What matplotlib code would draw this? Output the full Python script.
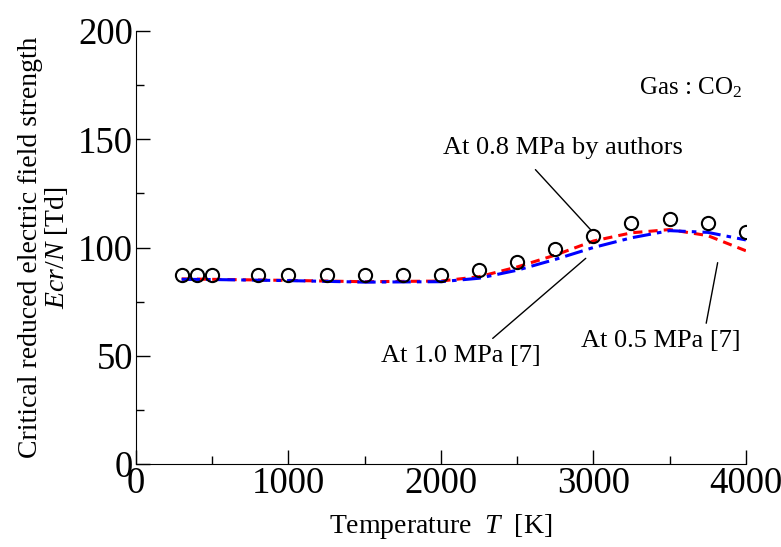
#!/usr/bin/env python3

import matplotlib
matplotlib.use('Agg')
import matplotlib.pyplot as plt
import numpy as np

plt.rcParams['font.family'] = ['Liberation Serif', 'DejaVu Serif']
plt.rcParams['mathtext.fontset'] = 'custom'
plt.rcParams['mathtext.rm'] = 'Liberation Serif'
plt.rcParams['mathtext.it'] = 'Liberation Serif:italic'

# measured by authors at 0.8 MPa
T_meas = [300, 400, 500, 800, 1000, 1250, 1500, 1750, 2000,
          2250, 2500, 2750, 3000, 3250, 3500, 3750, 4000]
E_meas = [87.3, 87.3, 87.3, 87.2, 87.2, 87.2, 87.1, 87.1, 87.1,
          89.6, 93.3, 99.3, 105.3, 111.4, 113.1, 111.4, 107.3]

# reference [7]
T_ref = [300, 500, 1000, 1500, 2000, 2250, 2500, 2750, 3000, 3250, 3500, 3750, 4000]
E_05 = [85.5, 85.3, 84.8, 84.2, 84.5, 86.5, 91.0, 96.5, 103.0, 106.8, 108.3, 105.5, 98.5]
E_10 = [85.3, 85.2, 84.7, 84.0, 84.2, 85.8, 89.5, 94.5, 100.0, 104.5, 107.8, 107.0, 103.5]

fig = plt.figure(figsize=(7.81, 5.47), dpi=100)
ax = fig.add_axes([0.174, 0.152, 0.781, 0.791])

ax.plot(T_ref, E_05, color='red', ls=(0, (3, 2)), lw=2.2)
ax.plot(T_ref, E_10, color='blue', ls=(0, (6, 2, 1.5, 2)), lw=2.2)
ax.plot(T_meas, E_meas, ls='none', marker='o', ms=9.5, mfc='none',
        mec='black', mew=1.5)

ax.set_xlim(0, 4000)
ax.set_ylim(0, 200)
ax.set_xticks(np.arange(0, 4001, 1000))
ax.set_xticks(np.arange(500, 4000, 1000), minor=True)
ax.set_yticks(np.arange(0, 201, 50))
ax.set_yticks(np.arange(25, 200, 50), minor=True)
ax.spines['top'].set_visible(False)
ax.spines['right'].set_visible(False)
ax.tick_params(which='both', direction='in', labelsize=26.5, width=1)
ax.tick_params(which='major', length=10, pad=2)
ax.tick_params(which='minor', length=6)

ax.set_xlabel('Temperature  $\\it{T}$  [K]', fontsize=20, labelpad=8)
ax.set_ylabel('Critical reduced electric field strength\n'
              '$\\it{Ecr/N}$ [Td]', fontsize=20, labelpad=6, linespacing=1.0)

ax.text(3300, 174, 'Gas : CO$_2$', fontsize=18, va='center')

arrow = dict(arrowstyle='-', color='black', lw=1.0, shrinkA=0, shrinkB=0)
ax.text(2800, 146, 'At 0.8 MPa by authors', fontsize=19,
        ha='center', va='center')
ax.annotate('', xy=(2985, 108), xytext=(2620, 136), arrowprops=arrow)
ax.text(2130, 50, 'At 1.0 MPa [7]', fontsize=19, ha='center', va='center')
ax.annotate('', xy=(2950, 95), xytext=(2340, 58), arrowprops=arrow)
ax.text(3440, 57, 'At 0.5 MPa [7]', fontsize=19, ha='center', va='center')
ax.annotate('', xy=(3815, 93), xytext=(3740, 65), arrowprops=arrow)

fig.savefig('out.png', dpi=100)
